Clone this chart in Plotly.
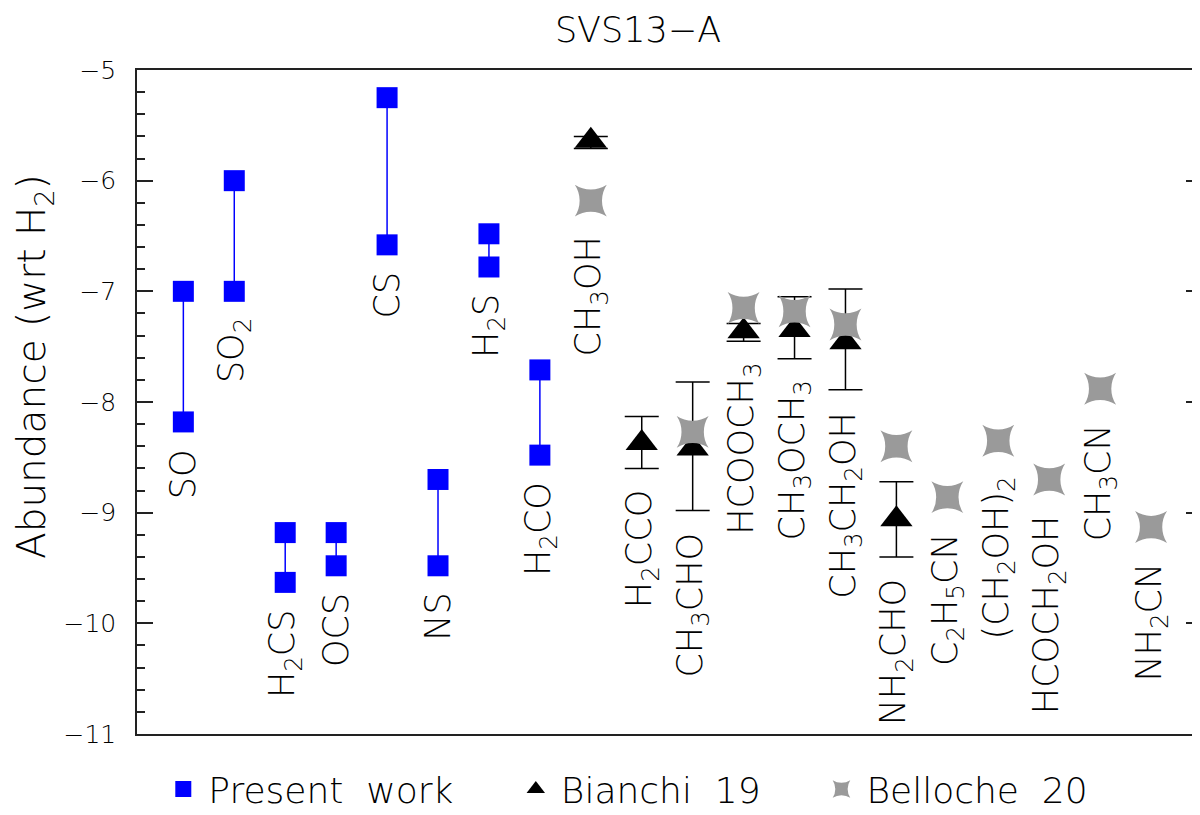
import plotly.graph_objects as go

# molecules along the x axis (position = index + 1)
species = ["SO", "SO<sub>2</sub>", "H<sub>2</sub>CS", "OCS", "CS", "NS", "H<sub>2</sub>S",
           "H<sub>2</sub>CO", "CH<sub>3</sub>OH", "H<sub>2</sub>CCO", "CH<sub>3</sub>CHO",
           "HCOOCH<sub>3</sub>", "CH<sub>3</sub>OCH<sub>3</sub>", "CH<sub>3</sub>CH<sub>2</sub>OH",
           "NH<sub>2</sub>CHO", "C<sub>2</sub>H<sub>5</sub>CN", "(CH<sub>2</sub>OH)<sub>2</sub>",
           "HCOCH<sub>2</sub>OH", "CH<sub>3</sub>CN", "NH<sub>2</sub>CN"]

# present work: upper / lower abundance of each range
present_hi = [-7.00, -6.00, -9.18, -9.18, -5.25, -8.70, -6.48, -7.71] + [None] * 12
present_lo = [-8.18, -7.00, -9.63, -9.48, -6.58, -9.48, -6.78, -8.48] + [None] * 12

# Bianchi 19: value and error bar ends
bianchi = [None] * 8 + [-5.64, -8.37, -8.42, -7.36, -7.35, -7.46, -9.06] + [None] * 5
bianchi_top = [None] * 8 + [-5.60, -8.13, -7.82, -7.29, -7.05, -6.98, -8.72] + [None] * 5
bianchi_bot = [None] * 8 + [-5.71, -8.60, -8.98, -7.45, -7.61, -7.89, -9.40] + [None] * 5

# Belloche 20
belloche = [None] * 8 + [-6.18, None, -8.27, -7.15, -7.18, -7.30, -8.40, -8.86, -8.35, -8.70, -7.88, -9.13]

xpos = list(range(1, len(species) + 1))
FONT = "DejaVu Sans"
W = 200

fig = go.Figure()

# present work: vertical segments with squares at both ends
seg_x, seg_y = [], []
for x, hi, lo in zip(xpos, present_hi, present_lo):
    if hi is None:
        continue
    seg_x += [x, x, None]
    seg_y += [hi, lo, None]
fig.add_trace(go.Scatter(x=seg_x, y=seg_y, mode="lines+markers", showlegend=False,
                         line=dict(color="#0000ff", width=1.5),
                         marker=dict(symbol="square", size=21, color="#0000ff")))

# Bianchi 19 with asymmetric error bars
bx, by, bplus, bminus = [], [], [], []
for x, v, t, b in zip(xpos, bianchi, bianchi_top, bianchi_bot):
    if v is None:
        continue
    bx.append(x)
    by.append(v)
    bplus.append(t - v)
    bminus.append(v - b)
fig.add_trace(go.Scatter(x=bx, y=by, mode="markers", showlegend=False,
                         marker=dict(symbol="triangle-up", size=28, color="black"),
                         error_y=dict(type="data", symmetric=False, array=bplus, arrayminus=bminus,
                                      color="black", thickness=1.5, width=17)))

# Belloche 20
gx = [x for x, v in zip(xpos, belloche) if v is not None]
gy = [v for v in belloche if v is not None]
fig.add_trace(go.Scatter(x=gx, y=gy, mode="markers", showlegend=False,
                         marker=dict(symbol="star-square", size=29, color="#9a9a9a")))

# legend-only entries
fig.add_trace(go.Scatter(x=[None], y=[None], mode="markers", name="Present\u00a0\u00a0work",
                         marker=dict(symbol="square", size=21, color="#0000ff"), legend="legend"))
fig.add_trace(go.Scatter(x=[None], y=[None], mode="markers", name="Bianchi\u00a0\u00a019",
                         marker=dict(symbol="triangle-up", size=28, color="black"), legend="legend2"))
fig.add_trace(go.Scatter(x=[None], y=[None], mode="markers", name="Belloche\u00a0\u00a020",
                         marker=dict(symbol="star-square", size=29, color="#9a9a9a"), legend="legend3"))

# molecule labels, rotated, just below the lowest mark of each species
for i, name in enumerate(species):
    cands = []
    if present_lo[i] is not None:
        cands.append((present_lo[i], 25))
    if bianchi_bot[i] is not None:
        cands.append((bianchi_bot[i], 20))
    if belloche[i] is not None:
        cands.append((belloche[i], 34))
    yv, shift = max(cands, key=lambda c: -c[0] * 113.1 + c[1])
    fig.add_annotation(x=xpos[i], y=yv, text=name, textangle=-90, showarrow=False,
                       xanchor="center", yanchor="top", yshift=-shift,
                       font=dict(family=FONT, size=35, color="black", weight=W))

# y axis title
fig.add_annotation(x=-0.0965, y=0.553, xref="paper", yref="paper", showarrow=False,
                   text="Abundance (wrt H<sub>2</sub>)", textangle=-90,
                   xanchor="center", yanchor="middle",
                   font=dict(family=FONT, size=39, color="black", weight=W))

leg = dict(orientation="h", yanchor="middle", xanchor="left", y=-0.083,
           font=dict(family=FONT, size=36, color="black", weight=W), bgcolor="rgba(0,0,0,0)",
           itemwidth=40)

fig.update_layout(
    width=1200, height=815,
    margin=dict(l=129, r=4, t=62, b=74),
    paper_bgcolor="white", plot_bgcolor="white",
    title=dict(text="SVS13\u2212A", x=0.525, xref="container", xanchor="center",
               y=1 - 22 / 815, yref="container", yanchor="middle",
               font=dict(family=FONT, size=35, color="black", weight=W)),
    legend=dict(leg, x=0.02),
    legend2=dict(leg, x=0.351),
    legend3=dict(leg, x=0.638),
    xaxis=dict(range=[0.09, 21.0], showgrid=False, zeroline=False, showticklabels=False,
               ticks="", showline=True, linecolor="#222", linewidth=1.5, mirror=True),
    yaxis=dict(range=[-11, -5], dtick=1, showgrid=False, zeroline=False,
               showline=True, linecolor="#222", linewidth=1.5, mirror="ticks",
               ticks="inside", ticklen=16, tickwidth=1.5, tickcolor="#222",
               ticklabelstandoff=14,
               tickfont=dict(family=FONT, size=25, color="black", weight=W),
               minor=dict(dtick=0.2, ticks="inside", ticklen=8, tickwidth=1.5, tickcolor="#222")),
)

fig.write_html("out.html")
